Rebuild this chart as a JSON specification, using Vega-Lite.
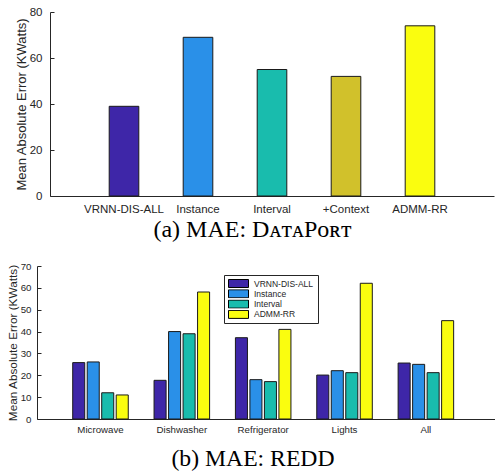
{
  "$schema": "https://vega.github.io/schema/vega-lite/v6.json",
  "padding": {"top": 6, "left": 7, "right": 0, "bottom": 0},
  "background": "white",
  "config": {
    "view": {"stroke": null},
    "axis": {
      "labelFont": "Liberation Sans",
      "titleFont": "Liberation Sans",
      "labelColor": "#262626",
      "titleColor": "#262626",
      "domainColor": "#262626",
      "tickColor": "#262626",
      "titleFontWeight": "normal",
      "grid": false
    }
  },
  "spacing": 19,
  "resolve": {"scale": {"color": "independent"}, "legend": {"color": "independent"}},
  "vconcat": [
    {
      "width": 457,
      "height": 184,
      "data": {"values": [
        {"method": "VRNN-DIS-ALL", "mae": 39},
        {"method": "Instance", "mae": 69},
        {"method": "Interval", "mae": 55},
        {"method": "+Context", "mae": 52},
        {"method": "ADMM-RR", "mae": 74}
      ]},
      "mark": {"type": "bar", "stroke": "#1a1a1a", "strokeWidth": 1},
      "encoding": {
        "x": {
          "field": "method", "type": "nominal", "sort": null,
          "scale": {"range": [13, 457], "paddingInner": 0.6, "paddingOuter": 0.8},
          "axis": {"title": null, "labelAngle": 0, "ticks": false, "labelFontSize": 11.5, "labelPadding": 7}
        },
        "y": {
          "field": "mae", "type": "quantitative",
          "scale": {"domain": [0, 80]},
          "axis": {"title": "Mean Absolute Error (KWatts)", "values": [0, 20, 40, 60, 80], "offset": -13, "tickSize": -4, "labelPadding": 12, "labelFontSize": 11.5, "titleFontSize": 13, "titlePadding": 1}
        },
        "color": {
          "field": "method", "type": "nominal",
          "scale": {"domain": ["VRNN-DIS-ALL", "Instance", "Interval", "+Context", "ADMM-RR"], "range": ["#3e26a8", "#2a90e8", "#19bcad", "#d1c12b", "#fafd0f"]},
          "legend": null
        }
      },
      "title": {"text": "(a) MAE: DᴀᴛᴀPᴏʀᴛ", "orient": "bottom", "anchor": "middle", "font": "Liberation Serif", "fontSize": 24, "fontWeight": "normal", "color": "#000000", "dx": -13, "offset": 3}
    },
    {
      "width": 458,
      "height": 153,
      "data": {"values": [
        {"appliance": "Microwave", "method": "VRNN-DIS-ALL", "mae": 25.8},
        {"appliance": "Microwave", "method": "Instance", "mae": 26.1},
        {"appliance": "Microwave", "method": "Interval", "mae": 12.0},
        {"appliance": "Microwave", "method": "ADMM-RR", "mae": 11.0},
        {"appliance": "Dishwasher", "method": "VRNN-DIS-ALL", "mae": 17.7},
        {"appliance": "Dishwasher", "method": "Instance", "mae": 40.0},
        {"appliance": "Dishwasher", "method": "Interval", "mae": 39.0},
        {"appliance": "Dishwasher", "method": "ADMM-RR", "mae": 58.1},
        {"appliance": "Refrigerator", "method": "VRNN-DIS-ALL", "mae": 37.2},
        {"appliance": "Refrigerator", "method": "Instance", "mae": 18.0},
        {"appliance": "Refrigerator", "method": "Interval", "mae": 17.1},
        {"appliance": "Refrigerator", "method": "ADMM-RR", "mae": 41.0},
        {"appliance": "Lights", "method": "VRNN-DIS-ALL", "mae": 20.1},
        {"appliance": "Lights", "method": "Instance", "mae": 22.1},
        {"appliance": "Lights", "method": "Interval", "mae": 21.2},
        {"appliance": "Lights", "method": "ADMM-RR", "mae": 62.1},
        {"appliance": "All", "method": "VRNN-DIS-ALL", "mae": 25.6},
        {"appliance": "All", "method": "Instance", "mae": 25.0},
        {"appliance": "All", "method": "Interval", "mae": 21.2},
        {"appliance": "All", "method": "ADMM-RR", "mae": 45.0}
      ]},
      "mark": {"type": "bar", "stroke": "#1a1a1a", "strokeWidth": 1},
      "encoding": {
        "x": {
          "field": "appliance", "type": "nominal", "sort": null,
          "scale": {"paddingInner": 0, "paddingOuter": 0.315, "align": 0.445},
          "axis": {"title": null, "labelAngle": 0, "ticks": false, "labelFontSize": 9.7, "labelPadding": 5}
        },
        "xOffset": {
          "field": "method", "type": "nominal", "sort": null,
          "scale": {"domain": ["VRNN-DIS-ALL", "Instance", "Interval", "ADMM-RR"], "paddingInner": 0.17, "paddingOuter": 0.89}
        },
        "y": {
          "field": "mae", "type": "quantitative",
          "scale": {"domain": [0, 70]},
          "axis": {"title": "Mean Absolute Error (KWatts)", "values": [0, 10, 20, 30, 40, 50, 60, 70], "tickSize": -4, "labelPadding": 10, "labelFontSize": 9.7, "titleFontSize": 11.8, "titlePadding": 2}
        },
        "color": {
          "field": "method", "type": "nominal",
          "scale": {"domain": ["VRNN-DIS-ALL", "Instance", "Interval", "ADMM-RR"], "range": ["#3e26a8", "#2a90e8", "#19bcad", "#fafd0f"]},
          "legend": {
            "title": null, "orient": "none", "legendX": 187, "legendY": 9,
            "symbolType": "M-2.5,-1H2.5V1H-2.5Z", "symbolSize": 64, "symbolOffset": 6,
            "symbolStrokeColor": "#000000", "symbolStrokeWidth": 1, "symbolOpacity": 1,
            "labelFont": "Liberation Sans", "labelFontSize": 8.5, "labelColor": "#262626", "labelOffset": 11,
            "clipHeight": 9, "rowPadding": 1.3,
            "strokeColor": "#262626", "fillColor": "#ffffff", "padding": 4
          }
        }
      },
      "title": {"text": "(b) MAE: REDD", "orient": "bottom", "anchor": "middle", "font": "Liberation Serif", "fontSize": 23.7, "fontWeight": "normal", "color": "#000000", "dx": -13, "offset": 13}
    }
  ]
}
